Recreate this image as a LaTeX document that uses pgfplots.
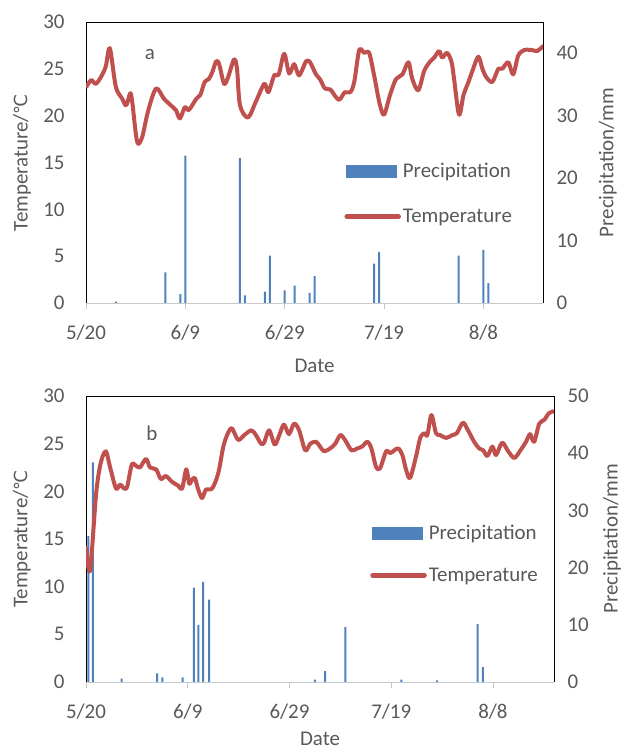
\documentclass[border=0pt]{standalone}
\usepackage{fontspec}
\setmainfont{Carlito}
\newfontfamily\dejavu{DejaVu Sans}
\usepackage{pgfplots}
\pgfplotsset{compat=1.18}

\definecolor{precip}{RGB}{79,129,189}
\definecolor{temp}{RGB}{192,80,77}
\definecolor{txt}{RGB}{89,89,89}
\definecolor{axgray}{RGB}{200,200,200}

\newcommand{\chartfont}{\fontsize{21}{25}\selectfont}

\pgfplotsset{
  base/.style={
    scale only axis,
    xmin=0, xmax=92,
    /pgf/number format/assume math mode=true,
    tick label style={font=\chartfont, text=txt},
    label style={font=\chartfont, text=txt},
    ytick style={draw=none},
    clip=true,
  },
  tempaxis/.style={
    base,
    axis y line*=left,
    axis x line*=bottom,
    x axis line style={axgray, line width=0.8bp},
    y axis line style={black, line width=0.8bp},
    xtick={0,20,40,60,80},
    xticklabels={5/20,6/9,6/29,7/19,8/8},
    xtick style={axgray, line width=0.8bp},
    tick align=outside,
    major tick length=6bp,
    xticklabel style={yshift=-12bp},
    yticklabel style={xshift=-12bp},
    ymin=0, ymax=30, ytick={0,5,...,30},
    ylabel={Temperature/{\dejavu\fontsize{18}{20}\selectfont ℃}},
    xlabel={Date},
    legend cell align=left,
    legend style={draw=none, fill=none, inner sep=0pt, font=\chartfont,
      text=txt,
      /tikz/every even column/.append style={column sep=6bp}},
  },
  precaxis/.style={
    base,
    axis y line*=right,
    hide x axis,
    y axis line style={black, line width=0.8bp},
    yticklabel style={xshift=10bp},
    ymin=0,
  },
}

\begin{document}
\begin{tikzpicture}[x=1bp,y=1bp]
\path[use as bounding box] (0,0) rectangle (627,751);

% ---------- panel a ----------
\begin{axis}[precaxis, at={(86bp,448bp)}, anchor=south west,
  width=457bp, height=281bp, ymax=45, ytick={0,10,...,40},
  ylabel={Precipitation/mm},
  ylabel style={at={(axis description cs:1.142,0.5)}, anchor=center}]
\addplot[ybar, bar width=2bp, fill=precip, draw=none] coordinates {
  (6,0.2) (16,4.9) (19,1.4) (20,23.6) (31,23.2) (32,1.2) (36,1.8)
  (37,7.6) (40,2.0) (42,2.8) (45,1.6) (46,4.3) (58,6.3) (59,8.2)
  (75,7.6) (80,8.5) (81,3.2)
};
\end{axis}

\begin{axis}[tempaxis, at={(86bp,448bp)}, anchor=south west,
  width=457bp, height=281bp,
  ylabel style={at={(axis description cs:-0.140,0.5)}, anchor=center},
  xlabel style={at={(axis description cs:0.5,-0.224)}, anchor=center},
  legend style={at={(axis description cs:0.565,0.505)}, anchor=north west,
    row sep=26bp}]
\addlegendimage{legend image code/.code={\fill[precip] (0bp,-6bp) rectangle (50bp,6bp);}}
\addlegendentry{Precipitation}
\addplot[temp, line width=4bp, smooth, line join=round, line cap=round,
  legend image code/.code={\draw[temp, line width=4.5bp, line cap=round] (0bp,0bp) -- (52bp,0bp);}]
  coordinates {
  (0.1,23.1) (1.05,23.8) (2.0,23.4) (3.2,24.3) (4.0,25.3) (4.8,27.2)
  (6.0,23.1) (7.3,21.8) (8.1,21.1) (8.9,22.4) (9.3,21.5) (10.3,17.2)
  (11.3,17.7) (12.5,20.5) (14.1,22.9) (15.7,21.8) (17.3,21.0) (18.1,20.6)
  (18.9,19.7) (19.9,20.9) (20.7,20.6) (22.2,21.8) (23.0,22.2) (23.9,23.6)
  (24.7,23.9) (25.4,24.6) (26.2,25.8) (26.8,25.5) (27.8,23.4) (28.6,24.1)
  (29.8,26.0) (30.4,25.0) (31.0,21.1) (32.6,19.8) (34.2,21.5) (35.9,23.4)
  (36.7,22.5) (37.9,24.3) (38.8,24.4) (39.9,26.6) (40.9,24.5) (41.9,25.5)
  (42.9,24.3) (44.3,25.8) (45.1,25.7) (46.3,24.4) (47.1,23.9) (48.1,22.9)
  (49.2,22.8) (50.0,22.2) (51.0,21.7) (52.1,22.5) (53.2,22.5) (54.0,23.6)
  (55.0,27.0) (56.0,26.7) (57.0,26.7) (58.0,24.3) (59.1,21.3) (60.0,20.1)
  (61.2,22.2) (62.4,23.9) (63.7,24.4) (64.9,25.7) (65.7,23.9) (66.9,22.7)
  (68.1,24.8) (69.3,25.8) (70.1,26.2) (71.1,26.9) (71.7,26.2) (72.7,26.7)
  (73.6,25.7) (74.1,23.9) (75.1,20.1) (76.0,22.2) (77.0,23.6) (78.0,25.1)
  (79.0,26.3) (79.8,25.0) (80.6,24.1) (81.8,23.6) (83.0,25.0) (83.8,25.0)
  (85.0,25.7) (86.0,24.4) (87.0,26.4) (88.2,27.0) (89.8,27.0) (90.8,26.9)
  (92.0,27.4)
};
\addlegendentry{Temperature}
\draw[black, line width=0.8bp] (rel axis cs:0,1) -- (rel axis cs:1,1);
\node[font=\chartfont, text=txt] at (rel axis cs:0.14,0.883) {a};
\end{axis}

% ---------- panel b ----------
\begin{axis}[precaxis, at={(86bp,69bp)}, anchor=south west,
  width=468bp, height=286bp, ymax=50, ytick={0,10,...,50},
  ylabel={Precipitation/mm},
  ylabel style={at={(axis description cs:1.124,0.5)}, anchor=center}]
\addplot[ybar, bar width=2bp, fill=precip, draw=none] coordinates {
  (0.45,25.5) (1.35,38.4) (7,0.6) (14,1.5) (15,0.8) (19,0.8) (21.2,16.5)
  (22.1,10.0) (23.0,17.5) (24.2,14.4) (45,0.4) (47,1.9) (51,9.6) (62,0.4)
  (69,0.3) (77,10.1) (78,2.6)
};
\end{axis}

\begin{axis}[tempaxis, at={(86bp,69bp)}, anchor=south west,
  width=468bp, height=286bp,
  ylabel style={at={(axis description cs:-0.137,0.5)}, anchor=center},
  xlabel style={at={(axis description cs:0.5,-0.199)}, anchor=center},
  legend style={at={(axis description cs:0.607,0.557)}, anchor=north west,
    row sep=23bp}]
\addlegendimage{legend image code/.code={\fill[precip] (0bp,-6bp) rectangle (50bp,6bp);}}
\addlegendentry{Precipitation}
\addplot[temp, line width=4bp, smooth, line join=round, line cap=round,
  legend image code/.code={\draw[temp, line width=4.5bp, line cap=round] (0bp,0bp) -- (52bp,0bp);}]
  coordinates {
  (0,14.1) (0.8,11.7) (2.0,19.8) (2.9,23.0) (3.9,24.2) (4.7,22.6)
  (5.9,20.3) (6.7,20.7) (7.5,20.3) (8.1,20.5) (9.0,22.8) (9.8,22.7)
  (10.6,22.5) (11.8,23.4) (12.6,22.5) (13.8,22.3) (14.7,21.3) (15.7,21.6)
  (16.9,21.0) (18.1,20.6) (18.9,20.3) (19.7,22.3) (20.3,20.8) (20.8,21.2)
  (21.4,21.4) (22.0,20.3) (22.8,19.3) (23.6,20.2) (24.8,20.3) (26.0,21.9)
  (27.0,24.7) (27.9,26.1) (28.7,26.6) (29.9,25.4) (31.1,25.9) (32.5,26.4)
  (33.4,25.9) (34.4,25.0) (35.0,25.1) (36.0,26.4) (37.1,24.9) (38.0,25.9)
  (38.9,27.0) (39.9,26.0) (40.9,27.1) (41.9,26.4) (43.1,24.3) (44.1,25.0)
  (45.2,25.2) (46.0,24.7) (46.8,24.2) (48.0,24.5) (49.0,25.0) (50.0,25.9)
  (50.9,25.4) (52.2,24.3) (53.3,24.5) (54.3,24.7) (55.3,25.2) (56.1,24.5)
  (57.0,22.6) (57.8,22.4) (59.0,24.2) (59.8,24.0) (60.6,24.3) (61.4,24.5)
  (62.2,23.8) (62.9,22.3) (63.7,21.4) (64.9,23.7) (65.7,25.6) (66.5,26.1)
  (67.1,25.9) (67.9,28.0) (68.8,26.1) (69.6,25.9) (70.8,25.6) (72.0,25.9)
  (72.9,26.1) (74.1,27.2) (75.1,26.4) (76.3,25.2) (77.3,24.5) (78.1,24.3)
  (78.9,23.7) (79.9,24.7) (80.6,23.8) (81.8,25.1) (83.0,24.2) (84.2,23.5)
  (85.4,24.3) (86.5,25.2) (87.3,26.0) (88.1,25.2) (89.1,27.1) (90.1,27.5)
  (91.0,28.2) (92.0,28.4)
};
\addlegendentry{Temperature}
\draw[black, line width=0.8bp] (rel axis cs:0,1) -- (rel axis cs:1,1);
\node[font=\chartfont, text=txt] at (rel axis cs:0.141,0.871) {b};
\end{axis}
\end{tikzpicture}
\end{document}
